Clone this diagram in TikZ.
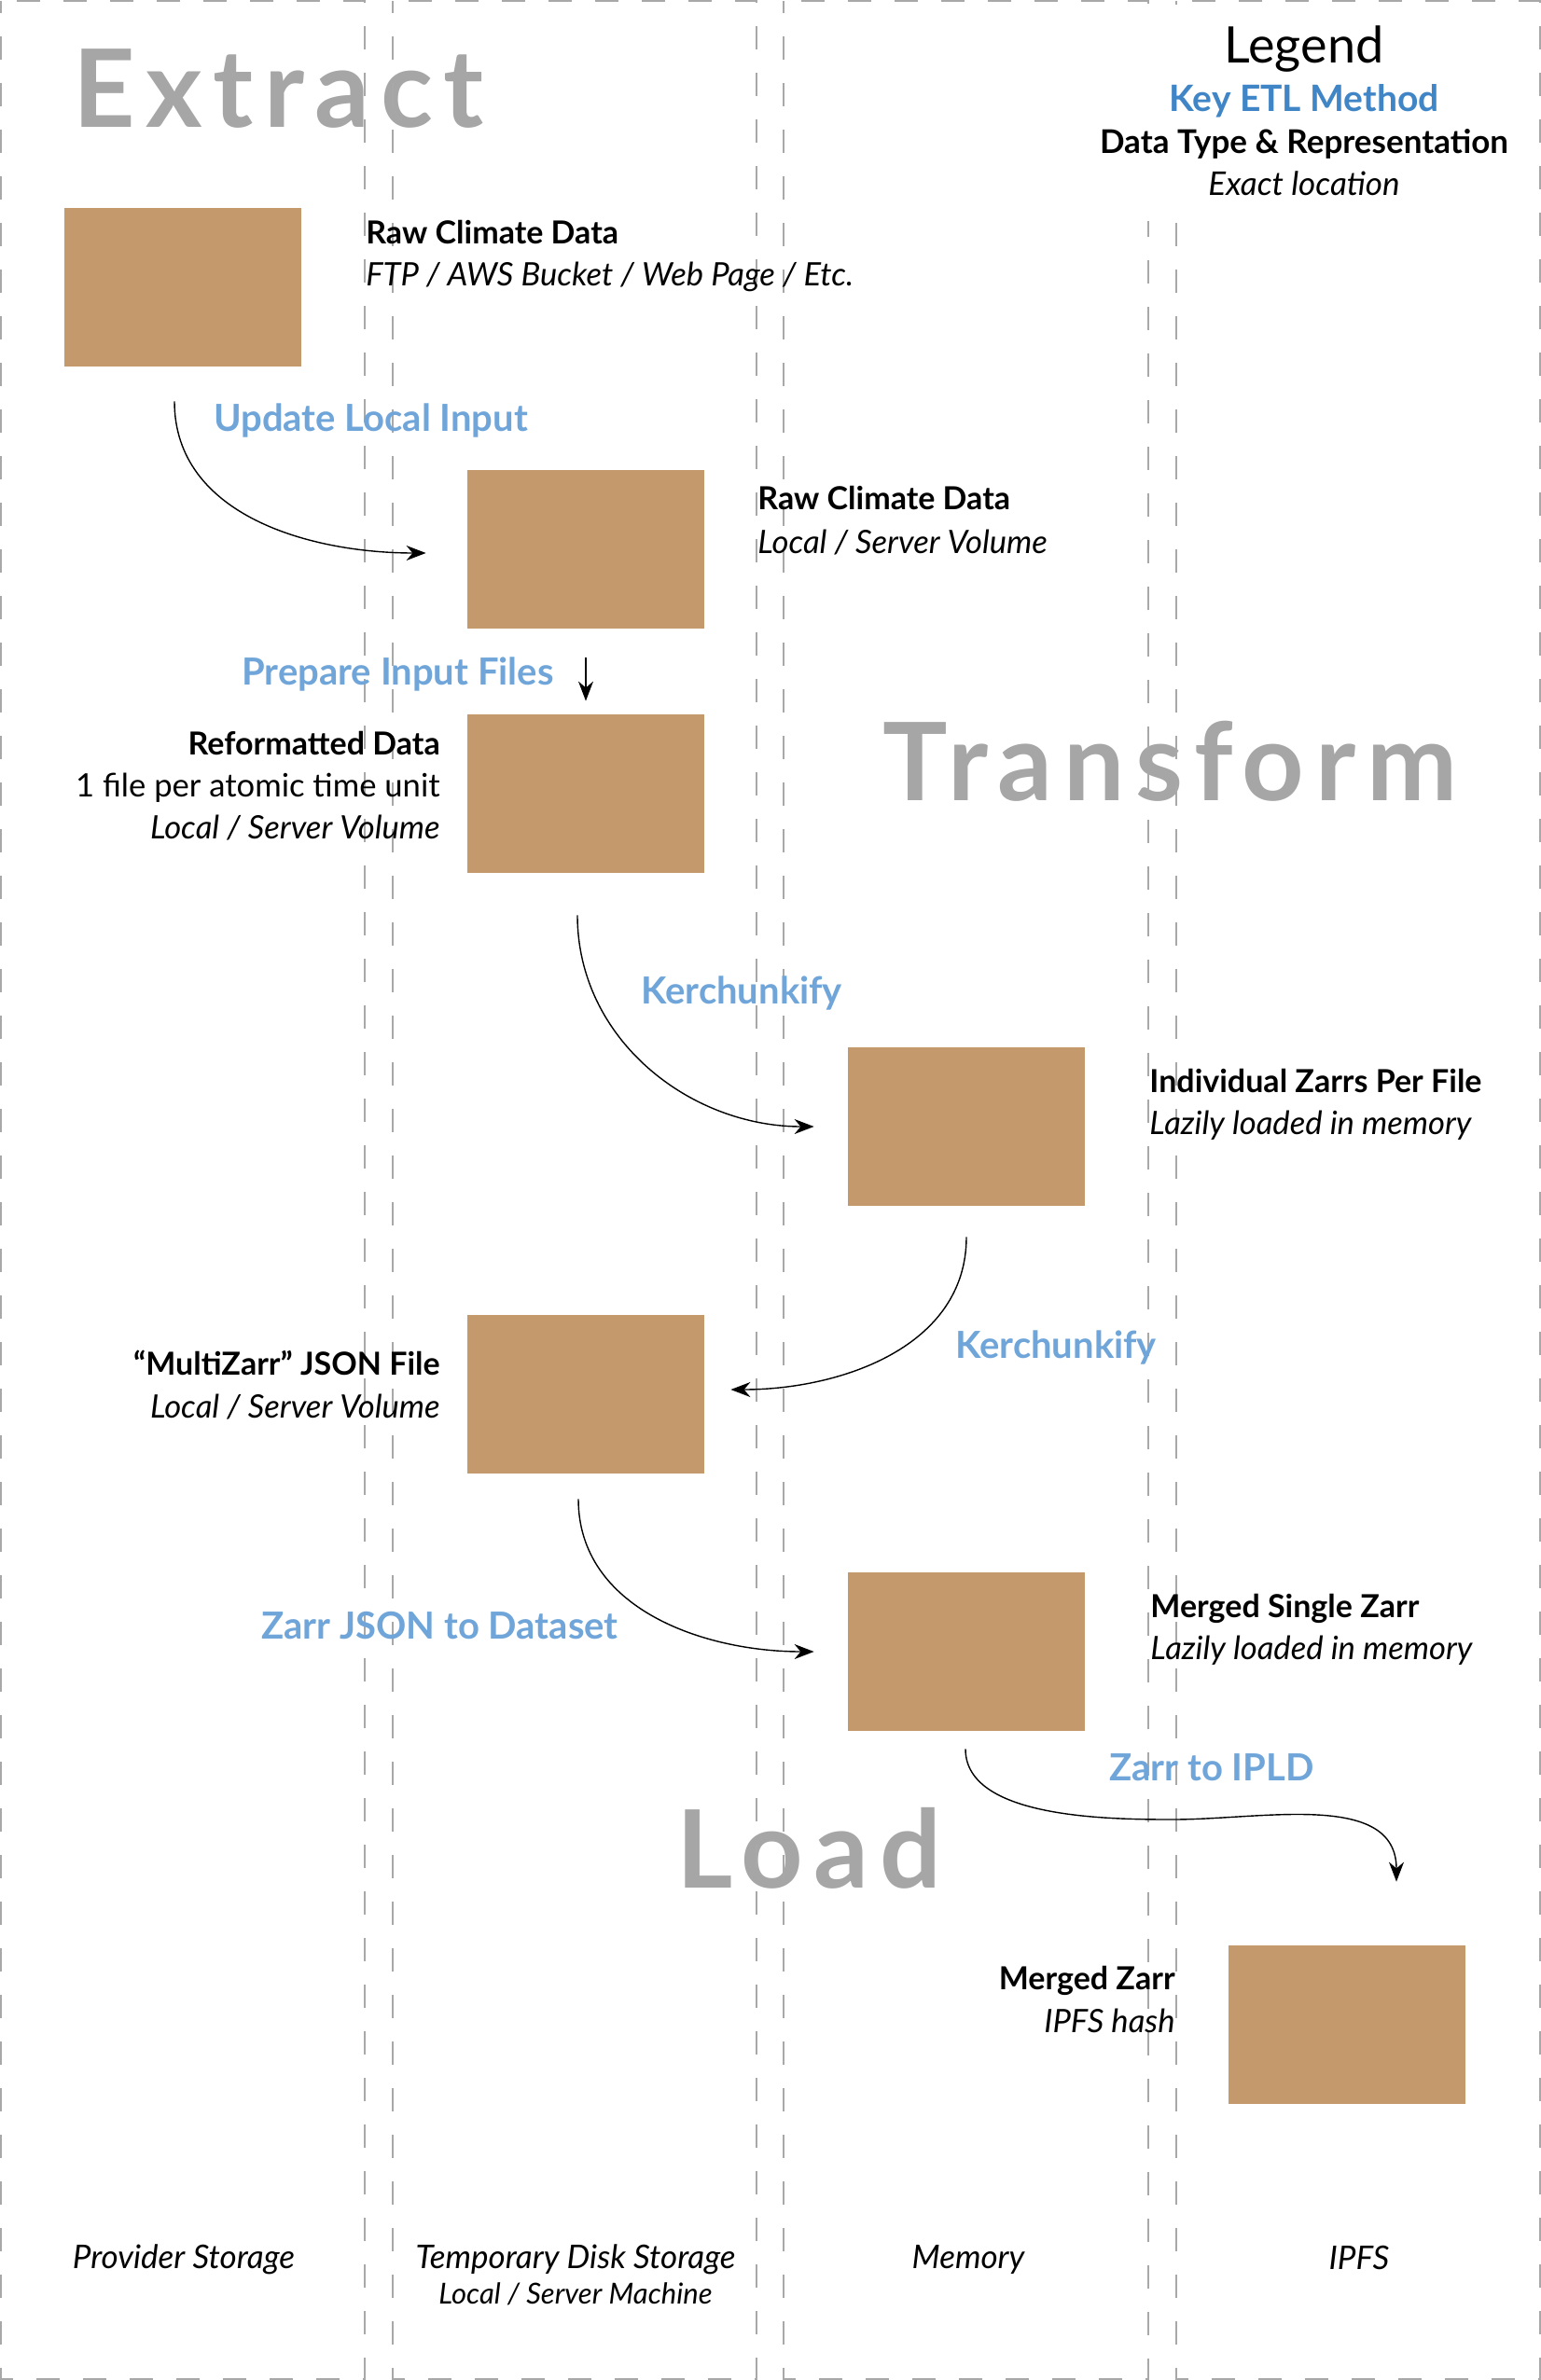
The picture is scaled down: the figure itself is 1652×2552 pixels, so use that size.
\documentclass[tikz,border=0pt]{standalone}
\usepackage{fontspec}
\setmainfont{Lato}
\newfontfamily\phasefont[LetterSpace=10]{Lato}
\usetikzlibrary{arrows.meta, positioning, calc}
\definecolor{boxtan}{RGB}{196,153,108}
\definecolor{methodblue}{RGB}{111,165,216}
\definecolor{keyblue}{RGB}{64,133,198}
\definecolor{phasegray}{RGB}{166,166,166}
\definecolor{lanegray}{RGB}{168,168,168}

\begin{document}
\begin{tikzpicture}[x=0.5pt, y=-0.5pt,
    databox/.style={fill=boxtan, minimum width=127pt, minimum height=85pt, inner sep=0pt},
    title/.style={font=\fontsize{17}{20}\selectfont\bfseries, inner sep=0pt},
    note/.style={font=\fontsize{17.3}{20}\selectfont\itshape, inner sep=0pt},
    plain/.style={font=\fontsize{17.3}{20}\selectfont, inner sep=0pt},
    method/.style={font=\fontsize{20}{24}\selectfont\bfseries, text=methodblue, inner sep=0pt, anchor=base west},
    phase/.style={font=\phasefont\fontsize{58}{60}\selectfont\bfseries, text=phasegray, inner sep=0pt, anchor=base west},
    lanename/.style={font=\fontsize{17.5}{20}\selectfont\itshape, inner sep=0pt, anchor=base},
    lanebox/.style={draw=lanegray, line width=0.75pt, dash pattern=on 12.5pt off 12.5pt, dash phase=6pt},
    flow/.style={-{Stealth[length=10.5pt, width=8pt]}, line width=0.7pt}]
        \useasboundingbox (0,0) rectangle (1652,2552);
        %\draw [step=100, very thin, lightgray] (0,0) grid (1652,2552);

        % phases
        \node[phase] (extract) at (78,137) {Extract};
        \node[phase] (transform) at (946,858) {Transform};
        \node[phase] (load) at (725,2024) {Load};

        % storage lanes
        \foreach \a/\b in {1/391, 421/811, 840/1231, 1261/1651}
            \draw[lanebox] (\a,1) rectangle (\b,2551);
        \filldraw [white] (1180,5) rectangle (1640,236);

        % legend
        \node[font=\fontsize{27}{30}\selectfont, inner sep=0pt, anchor=base] (legend) at (1398,68) {Legend};
        \node[font=\fontsize{19.5}{22}\selectfont\bfseries, text=keyblue, inner sep=0pt, anchor=base] (keymethod) at (1398,120) {Key ETL Method};
        \node[title, font=\fontsize{17.5}{20}\selectfont\bfseries, anchor=base] (keytype) at (1398,165) {Data Type \& Representation};
        \node[note, font=\fontsize{17.5}{20}\selectfont\itshape, anchor=base] (keyloc) at (1398,210) {Exact location};

        % data
        \node[databox] (raw) at (196,308) {};
        \node[databox] (local) at (628,589) {};
        \node[databox] (reformat) at (628,851) {};
        \node[databox] (zarrs) at (1036,1208) {};
        \node[databox] (multi) at (628,1495) {};
        \node[databox] (merged) at (1036,1771) {};
        \node[databox] (ipfs) at (1444,2171) {};

        \node[title, anchor=base west] (rawtitle) at (392,262) {Raw Climate Data};
        \node[note, anchor=base west] (rawnote) at (392,307) {FTP / AWS Bucket / Web Page / Etc.};
        \node[title, anchor=base west] (localtitle) at (812,546) {Raw Climate Data};
        \node[note, anchor=base west] (localnote) at (812,593) {Local / Server Volume};
        \node[title, anchor=base east] (reformattitle) at (472,809) {Reformatted Data};
        \node[plain, anchor=base east] (reformatunit) at (472,854) {1 file per atomic time unit};
        \node[note, anchor=base east] (reformatnote) at (472,899) {Local / Server Volume};
        \node[title, anchor=base west] (zarrstitle) at (1232,1171) {Individual Zarrs Per File};
        \node[note, anchor=base west] (zarrsnote) at (1232,1216) {Lazily loaded in memory};
        \node[title, anchor=base east] (multititle) at (472,1474) {“MultiZarr” JSON File};
        \node[note, anchor=base east] (multinote) at (472,1520) {Local / Server Volume};
        \node[title, anchor=base west] (mergedtitle) at (1233,1734) {Merged Single Zarr};
        \node[note, anchor=base west] (mergednote) at (1233,1779) {Lazily loaded in memory};
        \node[title, anchor=base east] (ipfstitle) at (1260,2133) {Merged Zarr};
        \node[note, anchor=base east] (ipfsnote) at (1260,2179) {IPFS hash};

        % methods
        \node[method] (update) at (229,462) {Update Local Input};
        \node[method] (prepare) at (259,734) {Prepare Input Files};
        \node[method] (kerchunk) at (687,1076) {Kerchunkify};
        \node[method] (multikerchunk) at (1024,1456) {Kerchunkify};
        \node[method] (todataset) at (280,1757) {Zarr JSON to Dataset};
        \node[method] (toipld) at (1189,1909) {Zarr to IPLD};

        \draw[flow] ([shift={(-9,37)}]raw.south) to[out=-90, in=180] ([shift={(-44,4)}]local.west);
        \draw[flow] ([shift={(0,31)}]local.south) -- ([shift={(0,-14)}]reformat.north);
        \draw[flow] ([shift={(-9,45)}]reformat.south) to[out=-90, in=180] ([shift={(-36,0)}]zarrs.west);
        \draw[flow] ([shift={(0,33)}]zarrs.south) to[out=-90, in=0] ([shift={(28,-5)}]multi.east);
        \draw[flow] ([shift={(-8,27)}]multi.south) to[out=-90, in=180] ([shift={(-36,0)}]merged.west);
        \coordinate (bend) at (1257,1951);
        \draw[flow] ([shift={(-1,19)}]merged.south) to[out=-90, in=180, looseness=0.8] (bend)
            to[out=0, in=90] ([shift={(53,-68)}]ipfs.north);

        % lanes
        \node[lanename] (provider) at (197,2432) {Provider Storage};
        \node[lanename] (disk) at (617,2432) {Temporary Disk Storage};
        \node[lanename, font=\fontsize{15.5}{18}\selectfont\itshape] (diskhost) at (617,2470) {Local / Server Machine};
        \node[lanename] (memory) at (1038,2432) {Memory};
        \node[lanename] (ipfslane) at (1457,2433) {IPFS};
    \end{tikzpicture}
\end{document}
